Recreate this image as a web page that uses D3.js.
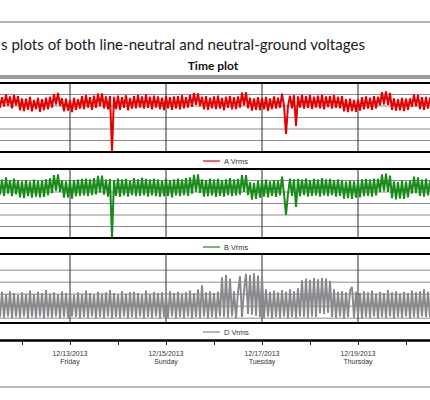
<!DOCTYPE html>
<html>
<head>
<meta charset="utf-8">
<script src="https://cdn.jsdelivr.net/npm/d3@7"></script>
<style>
  body { margin: 0; background: #fff; }
  svg { display: block; }
</style>
</head>
<body>
<div id="chart"></div>
<script>
// hourly Vrms samples starting 12/11/2013 12:00
var aVrms = [
  122.8, 119.6, 122.3, 119.9, 123.0, 120.1, 122.5, 119.4, 122.9, 120.2,
  122.6, 118.9, 122.0, 118.7, 121.9, 119.0, 122.4, 118.6, 121.6, 119.2,
  122.1, 118.5, 121.8, 118.9, 122.2, 119.1, 122.4, 119.6, 123.1, 120.4,
  123.4, 120.1, 122.0, 118.6, 121.9, 118.8, 121.5, 118.4, 122.1, 119.0,
  121.8, 119.3, 122.6, 119.2, 122.8, 119.6, 122.3, 119.0, 122.7, 119.5,
  123.2, 120.0, 123.3, 119.4, 122.5, 119.1, 122.6, 108.0, 122.4, 119.2,
  122.7, 119.0, 122.3, 119.5, 122.8, 118.9, 122.1, 119.3, 122.6, 119.4,
  122.9, 119.6, 122.5, 119.3, 123.0, 119.5, 122.4, 119.1, 122.7, 119.6,
  122.5, 119.2, 122.2, 118.9, 122.6, 119.4, 122.3, 119.0, 122.5, 119.3,
  122.6, 119.1, 122.8, 119.4, 122.3, 119.6, 122.9, 119.8, 123.4, 120.3,
  123.3, 120.0, 122.4, 119.1, 122.6, 119.0, 122.2, 119.4, 122.5, 119.2,
  122.7, 119.3, 122.1, 118.9, 122.4, 119.5, 122.6, 119.1, 122.3, 119.2,
  122.5, 119.6, 123.5, 120.2, 123.6, 119.4, 122.2, 118.8, 122.0, 119.0,
  122.3, 118.9, 122.1, 119.1, 122.4, 118.7, 122.0, 119.2, 122.5, 119.3,
  122.2, 119.5, 123.2, 120.1, 112.7, 120.0, 122.6, 119.4, 122.8, 114.8,
  122.5, 119.6, 122.9, 119.3, 122.6, 119.5, 122.8, 119.2, 122.4, 119.6,
  122.7, 119.4, 122.9, 119.1, 122.5, 119.7, 122.6, 119.3, 122.8, 119.5,
  122.4, 119.4, 122.6, 118.6, 121.8, 118.4, 121.9, 118.7, 121.6, 118.5,
  121.7, 118.8, 122.3, 119.1, 122.5, 119.3, 122.2, 119.0, 122.6, 119.4,
  122.4, 120.2, 123.6, 120.4, 123.8, 120.3, 123.4, 119.0, 122.0, 118.8,
  121.8, 118.9, 122.1, 118.7, 121.9, 119.0, 122.0, 119.8, 123.0, 119.9,
  122.9, 119.2, 122.3, 119.0, 122.4, 119.3, 122.2
];
var bVrms = [
  123.6, 119.3, 123.2, 119.0, 123.8, 119.6, 123.1, 118.9, 123.5, 119.4,
  123.0, 118.6, 122.8, 118.4, 123.1, 118.9, 122.7, 118.5, 123.2, 118.8,
  122.9, 118.6, 123.0, 118.7, 123.3, 119.2, 123.6, 119.7, 124.4, 120.3,
  124.6, 120.0, 123.0, 118.5, 122.8, 118.6, 122.9, 118.3, 123.1, 118.9,
  123.2, 119.0, 123.4, 119.1, 123.5, 118.9, 123.3, 119.2, 123.6, 119.4,
  124.2, 119.9, 124.3, 119.3, 123.2, 118.8, 123.4, 108.0, 123.1, 119.0,
  123.5, 118.7, 123.2, 119.1, 123.4, 118.8, 123.0, 119.2, 123.6, 118.9,
  123.3, 119.0, 123.7, 119.2, 123.4, 118.8, 123.2, 119.1, 123.5, 118.9,
  123.2, 118.7, 123.0, 118.9, 123.4, 119.0, 123.1, 118.6, 123.3, 119.1,
  123.5, 118.9, 123.2, 119.2, 123.6, 119.0, 123.8, 119.6, 124.5, 120.1,
  124.6, 119.8, 123.3, 118.8, 123.1, 118.9, 123.5, 119.1, 123.2, 118.7,
  123.4, 119.0, 123.1, 118.8, 123.3, 119.2, 123.6, 118.9, 123.2, 119.1,
  123.4, 119.3, 124.5, 120.0, 124.4, 119.2, 122.6, 118.0, 122.4, 118.2,
  122.9, 118.5, 123.0, 118.8, 123.2, 118.6, 122.8, 119.0, 123.1, 118.7,
  123.0, 119.1, 124.0, 119.6, 114.0, 119.5, 123.5, 119.0, 123.3, 116.1,
  123.4, 118.9, 123.2, 119.2, 123.5, 118.8, 123.1, 119.0, 123.4, 119.1,
  123.2, 118.8, 123.6, 119.1, 123.3, 118.9, 123.4, 119.2, 123.1, 118.8,
  123.3, 119.0, 123.0, 118.3, 122.7, 118.4, 122.9, 118.2, 122.8, 118.5,
  122.8, 118.6, 123.3, 118.9, 123.4, 119.0, 123.2, 118.8, 123.5, 119.1,
  123.4, 120.0, 124.6, 120.2, 124.8, 120.0, 124.3, 118.4, 122.8, 118.1,
  122.6, 118.3, 122.9, 118.2, 122.7, 118.6, 123.0, 119.6, 124.0, 119.7,
  123.8, 119.0, 123.2, 118.8, 123.4, 119.1, 123.0
];
var dVrms = [
  0.41, 0.02, 0.44, 0.01, 0.40, 0.03, 0.45, 0.00, 0.42, 0.02,
  0.39, 0.01, 0.43, 0.03, 0.41, 0.00, 0.46, 0.02, 0.40, 0.01,
  0.44, 0.03, 0.42, 0.00, 0.47, 0.02, 0.41, 0.01, 0.43, 0.03,
  0.40, 0.00, 0.45, 0.02, 0.42, 0.01, 0.44, 0.03, 0.39, 0.02,
  0.43, 0.00, 0.41, 0.02, 0.46, 0.01, 0.42, 0.03, 0.40, 0.00,
  0.44, 0.02, 0.41, 0.01, 0.43, 0.03, 0.47, 0.00, 0.42, 0.02,
  0.40, 0.01, 0.45, 0.03, 0.41, 0.00, 0.43, 0.02, 0.44, 0.01,
  0.42, 0.03, 0.40, 0.00, 0.46, 0.02, 0.41, 0.01, 0.44, 0.03,
  0.42, 0.00, 0.43, 0.02, 0.40, 0.01, 0.45, 0.03, 0.42, 0.00,
  0.44, 0.02, 0.41, 0.01, 0.43, 0.03, 0.46, 0.00, 0.42, 0.02,
  0.48, 0.01, 0.55, 0.03, 0.43, 0.00, 0.45, 0.02, 0.42, 0.01,
  0.44, 0.03, 0.68, 0.02, 0.72, 0.01, 0.66, 0.03, 0.45, 0.00,
  0.43, 0.70, 0.02, 0.46, 0.74, 0.07, 0.72, 0.06, 0.75, 0.04,
  0.71, 0.02, 0.69, 0.01, 0.48, 0.03, 0.44, 0.00, 0.46, 0.02,
  0.43, 0.01, 0.47, 0.03, 0.44, 0.00, 0.48, 0.02, 0.45, 0.01,
  0.50, 0.03, 0.63, 0.02, 0.66, 0.01, 0.64, 0.03, 0.67, 0.02,
  0.65, 0.08, 0.67, 0.07, 0.66, 0.09, 0.62, 0.02, 0.48, 0.01,
  0.44, 0.03, 0.45, 0.00, 0.43, 0.02, 0.46, 0.52, 0.01, 0.44,
  0.03, 0.42, 0.00, 0.45, 0.02, 0.43, 0.01, 0.46, 0.03, 0.41,
  0.00, 0.44, 0.02, 0.42, 0.01, 0.47, 0.03, 0.43, 0.00, 0.45,
  0.02, 0.41, 0.01, 0.44, 0.03, 0.42, 0.00, 0.46, 0.02, 0.43,
  0.01, 0.45, 0.03, 0.48, 0.02, 0.44, 0.01
];
var seriesNames = ["A Vrms", "B Vrms", "D Vrms"];
var tickDates = ["12/13/2013", "12/15/2013", "12/17/2013", "12/19/2013"];
var tickDays = ["Friday", "Sunday", "Tuesday", "Thursday"];
var yTicksAB = [108, 111, 114, 117, 120, 123, 126];
var yTicksD = [0, 0.2, 0.4, 0.6, 0.8];

var width = 430,
    height = 400;

var startTime = new Date(2013, 11, 11, 12);
var endTime = new Date(2013, 11, 20, 12);
var parseDate = d3.timeParse("%m/%d/%Y");

var svg = d3.select("#chart")
    .append("svg")
        .attr("width", width)
        .attr("height", height);

var x = d3.scaleTime()
    .domain([startTime, endTime])
    .range([-2, width]);

// page rules and titles
svg.append("line")
    .attr("x1", 0).attr("x2", width)
    .attr("y1", 22).attr("y2", 22)
    .attr("stroke", "#9a9a9a")
    .attr("stroke-width", 1.5);

svg.append("line")
    .attr("x1", 0).attr("x2", width)
    .attr("y1", 387).attr("y2", 387)
    .attr("stroke", "#a5a5a5")
    .attr("stroke-width", 1.5);

svg.append("text")
    .attr("x", 1)
    .attr("y", 50)
    .attr("textLength", 364)
    .attr("lengthAdjust", "spacingAndGlyphs")
    .style("font-family", "Lato, 'Open Sans', sans-serif")
    .style("font-size", "16px")
    .attr("fill", "#1a1a1a")
    .text("s plots of both line-neutral and neutral-ground voltages");

svg.append("text")
    .attr("x", 213)
    .attr("y", 70)
    .attr("text-anchor", "middle")
    .style("font-family", "Lato, 'Open Sans', sans-serif")
    .style("font-size", "12px")
    .style("font-weight", "bold")
    .attr("fill", "#111")
    .text("Time plot");

svg.append("rect")
    .attr("x", 0).attr("y", 75)
    .attr("width", width).attr("height", 4)
    .attr("fill", "#9b9b9b");

var panels = [
    {data: aVrms, name: seriesNames[0], color: "#e30000", top: 83, bottom: 152, domain: [108, 126], ticks: yTicksAB, legendY: 161, lw: 2},
    {data: bVrms, name: seriesNames[1], color: "#178a17", top: 169, bottom: 238, domain: [108, 126], ticks: yTicksAB, legendY: 247, lw: 2},
    {data: dVrms, name: seriesNames[2], color: "#88888c", top: 254, bottom: 323, domain: [-0.08, 1.07], ticks: yTicksD, legendY: 332, lw: 1.9}
];

var gridDays = d3.timeDay.every(2).range(startTime, endTime);

panels.forEach(function(p, k) {
    var y = d3.scaleLinear()
        .domain(p.domain)
        .range([p.bottom, p.top]);

    var g = svg.append("g");

    svg.append("clipPath")
        .attr("id", "clip" + k)
      .append("rect")
        .attr("x", 0).attr("y", p.top)
        .attr("width", width).attr("height", p.bottom - p.top);

    g.selectAll(".hgrid")
        .data(p.ticks)
        .enter()
        .append("line")
        .attr("x1", 0).attr("x2", width)
        .attr("y1", function(d) { return y(d); })
        .attr("y2", function(d) { return y(d); })
        .attr("stroke", "#8e8e8e")
        .attr("stroke-width", 1);

    g.selectAll(".vgrid")
        .data(gridDays)
        .enter()
        .append("line")
        .attr("x1", function(d) { return x(d); })
        .attr("x2", function(d) { return x(d); })
        .attr("y1", p.top).attr("y2", p.bottom)
        .attr("stroke", "#2b2b2b")
        .attr("stroke-width", 1);

    var line = d3.line()
        .x(function(d, i) { return x(d3.timeHour.offset(startTime, i)); })
        .y(function(d) { return y(d); });

    g.append("path")
        .datum(p.data)
        .attr("clip-path", "url(#clip" + k + ")")
        .attr("d", line)
        .attr("fill", "none")
        .attr("stroke", p.color)
        .attr("stroke-linejoin", "bevel")
        .attr("stroke-width", p.lw);

    [p.top, p.bottom].forEach(function(yy) {
        g.append("line")
            .attr("x1", 0).attr("x2", width)
            .attr("y1", yy).attr("y2", yy)
            .attr("stroke", "#000")
            .attr("stroke-width", 2);
    });

    // legend
    g.append("line")
        .attr("x1", 203).attr("x2", 220)
        .attr("y1", p.legendY).attr("y2", p.legendY)
        .attr("stroke", p.color)
        .attr("stroke-width", 1.2);

    g.append("text")
        .attr("x", 224)
        .attr("y", p.legendY + 2.5)
        .style("font-family", "'Liberation Sans', Arial, sans-serif")
        .style("font-size", "7.5px")
        .attr("fill", "#333")
        .text(p.name);
});

// time axis
var axis = svg.append("g")
    .attr("transform", "translate(0,340)")
    .call(d3.axisBottom(x)
        .ticks(d3.timeDay.every(1))
        .tickSize(5)
        .tickSizeOuter(0)
        .tickFormat(""));

axis.select(".domain")
    .attr("stroke", "#000")
    .attr("stroke-width", 2.5);
axis.selectAll(".tick line")
    .attr("stroke", "#222");

var labels = svg.selectAll(".xlabel")
    .data(tickDates)
    .enter()
    .append("text")
    .attr("x", function(d) { return x(parseDate(d)); })
    .attr("y", 355.5)
    .attr("text-anchor", "middle")
    .style("font-family", "'Liberation Sans', Arial, sans-serif")
    .style("font-size", "7px")
    .attr("fill", "#333");

labels.append("tspan")
    .text(function(d) { return d; });

labels.append("tspan")
    .attr("x", function(d) { return x(parseDate(d)); })
    .attr("dy", 8.5)
    .text(function(d, i) { return tickDays[i]; });
</script>
</body>
</html>
